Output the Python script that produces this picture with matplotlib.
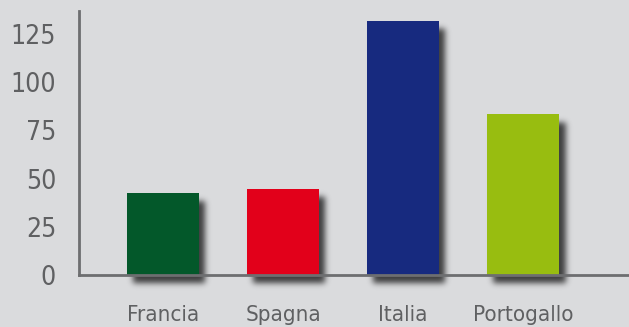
import math
import numpy as np
import matplotlib
matplotlib.use("Agg")
import matplotlib.pyplot as plt

# data
countries = ["Francia", "Spagna", "Italia", "Portogallo"]
values = [42.5, 44.8, 132, 83.3]
colors = ["#03582a", "#e2001a", "#172a7f", "#98bd10"]
yticks = [0, 25, 50, 75, 100, 125]

BG = "#dadbdd"
AXIS = "#6d6e70"
TEXT = "#5f6062"

plt.rcParams["font.family"] = ["DejaVu Sans"]
plt.rcParams["font.stretch"] = "condensed"

fig = plt.figure(figsize=(6.29, 3.27), dpi=100, facecolor=BG)
ax = fig.add_axes([79 / 629, 52 / 327, 550 / 629, 264 / 327])
ax.set_facecolor(BG)

x = list(range(len(countries)))
width = 0.6
bars = ax.bar(x, values, width=width, color=colors, zorder=3)

ax.set_xlim(-0.7, 3.883)
ax.set_ylim(0, 137)

# soft drop shadow, blurred in pixel space from each bar's box
erf = np.vectorize(math.erf)
dx, dy, sigma, peak, m = 6, 8, 3.0, 0.72, 12


def edge(t, a, b):
    s = sigma * math.sqrt(2)
    return 0.5 * (erf((t - a) / s) - erf((t - b) / s))


to_px = ax.transData
to_data = ax.transData.inverted()
for b in bars:
    (x0, y0), (x1, y1) = to_px.transform([(b.get_x(), 0), (b.get_x() + b.get_width(), b.get_height())])
    x0, x1 = x0 + dx, x1 + dx
    y0, y1 = y0 - dy, y1 - dy
    px = np.arange(x0 - m, x1 + m) + 0.5
    py = np.arange(y0 - m, y1 + m) + 0.5
    alpha = np.outer(edge(py, y0, y1), edge(px, x0, x1)) * peak
    img = np.zeros(alpha.shape + (4,))
    img[..., 3] = alpha
    (ex0, ey0), (ex1, ey1) = to_data.transform([(px[0] - 0.5, py[0] - 0.5), (px[-1] + 0.5, py[-1] + 0.5)])
    im = ax.imshow(img, extent=(ex0, ex1, ey0, ey1), origin="lower", aspect="auto",
                   interpolation="bilinear", zorder=1)
    im.set_clip_on(False)

ax.set_xlim(-0.7, 3.883)
ax.set_ylim(0, 137)
ax.set_xticks(x)
ax.set_xticklabels(countries)
ax.set_yticks(yticks)
ax.tick_params(length=0, labelcolor=TEXT)
ax.tick_params(axis="y", pad=16.5, labelsize=19)
ax.tick_params(axis="x", pad=21.5, labelsize=16)

for s in ["top", "right"]:
    ax.spines[s].set_visible(False)
for s in ["left", "bottom"]:
    ax.spines[s].set_color(AXIS)
    ax.spines[s].set_linewidth(2)
    ax.spines[s].set_zorder(4)

fig.savefig("out.png", dpi=100, facecolor=BG)
